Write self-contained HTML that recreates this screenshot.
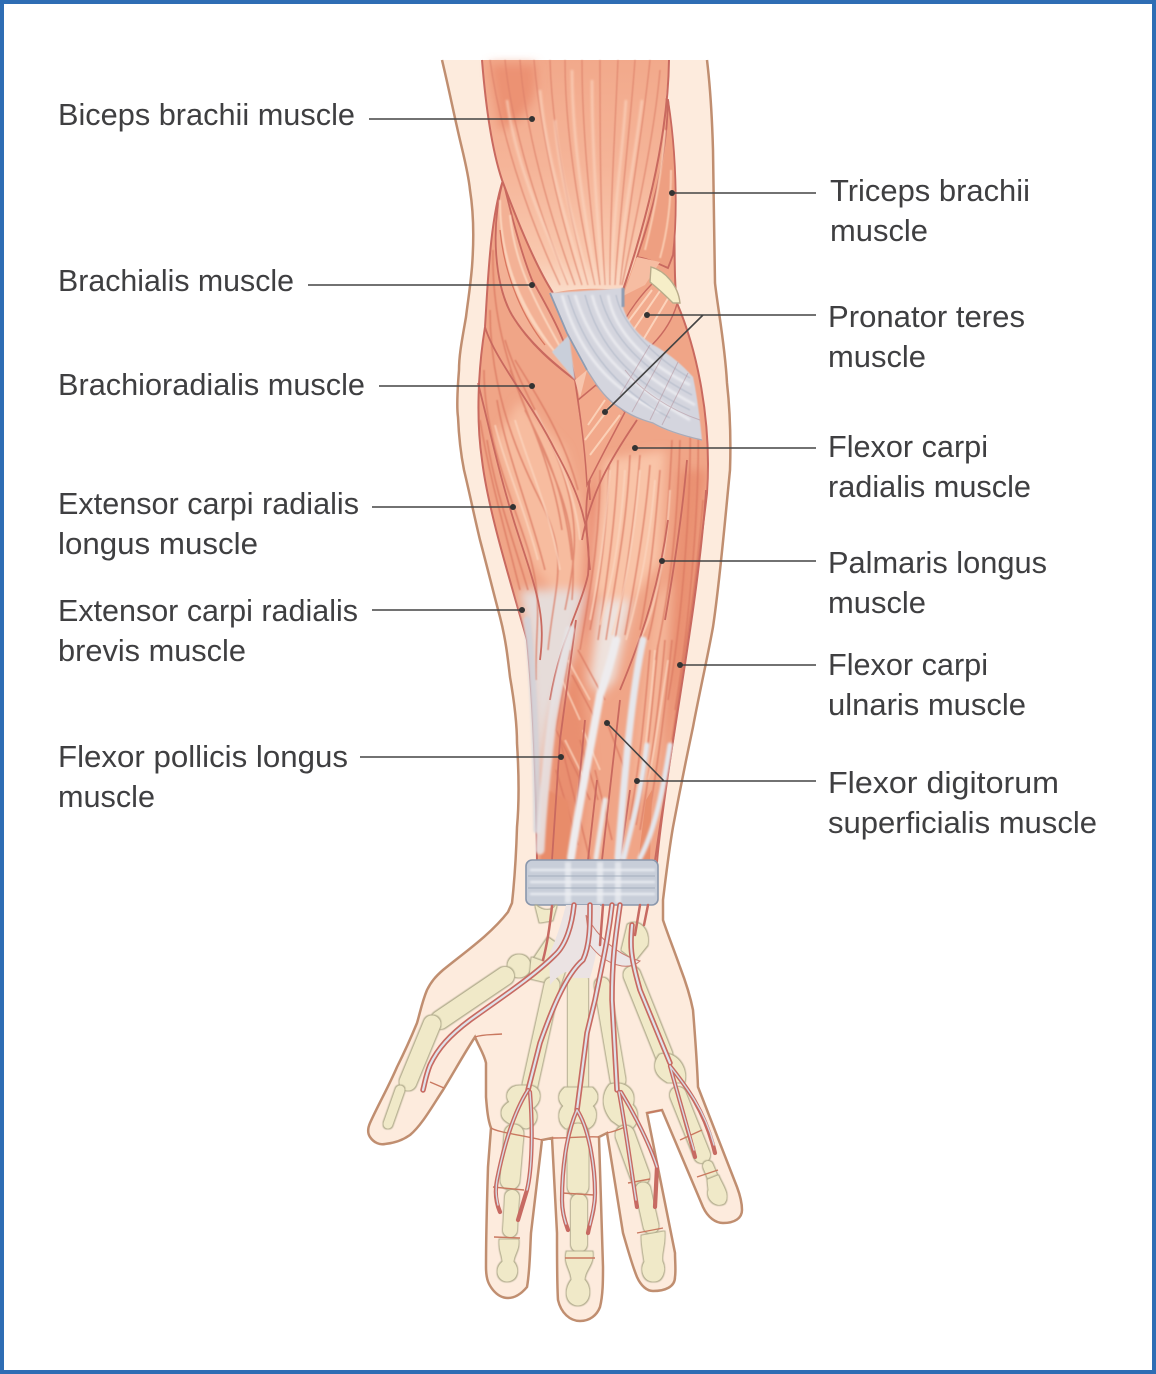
<!DOCTYPE html>
<html><head><meta charset="utf-8"><style>
html,body{margin:0;padding:0;background:#fff}
svg{display:block}
text{font-family:"Liberation Sans",sans-serif;font-size:31px;fill:#3f3f41}
.b{filter:url(#ol);fill:#f0e9c8;stroke:#f0e9c8;stroke-linecap:round;stroke-linejoin:round}
</style></head><body>
<svg xmlns="http://www.w3.org/2000/svg" width="1156" height="1374" viewBox="0 0 1156 1374">
<defs>
<filter id="ol" filterUnits="userSpaceOnUse" x="340" y="890" width="420" height="440"><feMorphology in="SourceAlpha" operator="dilate" radius="1.1" result="d"/><feFlood flood-color="#b3ad8e"/><feComposite in2="d" operator="in" result="o"/><feGaussianBlur in="o" stdDeviation=".5" result="o2"/><feMerge><feMergeNode in="o2"/><feMergeNode in="SourceGraphic"/></feMerge></filter>
<filter id="b05" filterUnits="userSpaceOnUse" x="440" y="50" width="300" height="900"><feGaussianBlur stdDeviation=".6"/></filter>
<filter id="b1" filterUnits="userSpaceOnUse" x="440" y="50" width="300" height="900"><feGaussianBlur stdDeviation="1"/></filter>
<filter id="b2" filterUnits="userSpaceOnUse" x="440" y="50" width="300" height="900"><feGaussianBlur stdDeviation="2.4"/></filter>
<filter id="b3" filterUnits="userSpaceOnUse" x="440" y="50" width="300" height="900"><feGaussianBlur stdDeviation="5"/></filter>
<linearGradient id="bic" x1="0" y1="0" x2="0" y2="1"><stop offset="0" stop-color="#f2a98b"/><stop offset=".45" stop-color="#f5b498"/><stop offset=".85" stop-color="#f9c8ae"/><stop offset="1" stop-color="#fadcc9"/></linearGradient>
<clipPath id="env"><path d="M503 180C490 220 488 280 485 327C478 370 476 420 482 460C488 510 510 580 527 640C533 700 536 780 537 862L657 862C662 800 690 640 707 493C712 420 697 350 677 303C672 270 678 200 668 100L482 60Z"/></clipPath>
</defs>
<rect width="1156" height="1374" fill="#fff"/>
<!-- skin -->
<path d="M442 60C448 85 452 105 457 127C462 150 468 170 470 190C474 215 474 240 472 267C470 290 468 300 466 317C462 340 459 355 459 370C457 395 457 410 458 417C459 440 461 455 464 470C470 495 474 515 480 540C488 570 494 595 500 617C506 640 508 660 510 677C514 700 517 725 517 743C519 775 519 805 517 827C516 860 514 885 512 903L508 912C490 935 465 952 443 970C435 977 431 982 427 990C422 1002 420 1013 417 1023C410 1040 404 1053 397 1067C388 1088 378 1105 370 1123C367 1130 368 1134 370 1137C374 1143 380 1145 385 1144C395 1143 403 1140 410 1135C422 1125 433 1105 443 1090C454 1072 465 1052 475 1037C479 1047 484 1054 486 1063L486 1097C487 1110 488 1120 491 1128L488 1167C487 1200 486 1235 486 1267C486 1280 489 1285 493 1290C498 1296 503 1298 508 1298C516 1298 522 1293 527 1287C530 1270 530 1250 531 1233L542 1140L552 1138L557 1233C557 1260 557 1285 558 1300C561 1313 570 1321 580 1321C590 1321 597 1315 600 1307C603 1295 603 1280 603 1267L599 1137L607 1133L623 1233C628 1250 632 1265 637 1277C641 1286 647 1291 653 1291C665 1291 675 1287 675 1277C676 1270 675 1262 675 1253L647 1113L662 1110L703 1207C708 1218 716 1223 723 1223C735 1223 742 1218 742 1210C742 1203 740 1195 737 1187L698 1087C697 1060 695 1035 693 1010C690 995 685 980 680 967C674 950 668 935 663 920L663 900C666 875 669 850 673 827C679 795 686 760 693 727C700 690 707 660 713 627C720 580 725 520 730 470C731 440 730 410 727 383C725 345 718 310 715 283C714 240 714 190 713 150C712 115 710 85 707 60" fill="#fdebdd" stroke="#c08e70" stroke-width="2.5"/>
<!-- forearm base -->
<path d="M503 180C490 220 488 280 485 327C478 370 476 420 482 460C488 510 510 580 527 640C533 700 536 780 537 862L657 862C662 800 690 640 707 493C712 420 697 350 677 303C672 270 678 200 668 100L640 90L520 150Z" fill="#f0a587" stroke="#c9695f" stroke-width="2"/>
<g clip-path="url(#env)">
<g filter="url(#b3)">
<path d="M520 400L565 450L585 520L580 590L560 600L530 560L495 440Z" fill="#f7bc9f"/>
<path d="M605 460L665 450L660 560L625 610L590 590Z" fill="#f9c4a8"/>
<path d="M655 600L690 560L672 720L650 790L630 800Z" fill="#f5b699"/>
<path d="M545 860L575 860L590 760L578 650L555 720Z" fill="#e98f6f"/>
<path d="M590 500L600 470L590 620L582 650Z" fill="#e8836a"/>
<path d="M680 470L706 470L690 640L660 780Z" fill="#ea9172"/>
<path d="M520 590L585 590L575 640L550 720L537 800L528 640Z" fill="#e6dcd9"/>
<path d="M600 600L632 600L615 680L600 695L590 680Z" fill="#eee2dd"/>
</g>
<g fill="none" stroke="#d9765f" stroke-width="1.6" filter="url(#b05)" opacity=".7">
<path d="M493 250C492 300 500 350 530 420S578 520 572 600"/>
<path d="M490 310C490 380 510 440 540 500S555 580 548 650"/>
<path d="M484 370C484 430 505 480 525 540S535 620 536 680"/>
<path d="M505 340C520 390 550 430 565 480S575 560 565 610"/>
<path d="M480 420C490 480 505 530 520 590"/>
<path d="M515 360C540 400 565 440 578 490"/>
<path d="M497 400C505 450 530 510 545 570"/>
<path d="M487 440C495 490 510 530 528 590"/>
<path d="M525 410C545 450 565 490 572 560"/>
<path d="M510 370C530 420 553 470 562 530"/>
<path d="M600 470C600 540 590 590 580 650"/>
<path d="M609 465C607 530 600 580 590 630"/>
<path d="M618 460C615 530 605 590 598 640"/>
<path d="M630 455C627 525 615 580 606 640"/>
<path d="M640 455C635 520 625 580 615 640"/>
<path d="M650 465C645 525 635 580 625 635"/>
<path d="M660 470C655 530 650 580 640 630"/>
<path d="M672 440C668 530 660 590 648 640"/>
<path d="M680 440C677 540 668 600 655 660"/>
<path d="M690 410C692 500 682 620 668 700"/>
<path d="M698 420C700 500 690 620 675 710"/>
<path d="M703 500C697 580 685 650 672 740"/>
<path d="M650 650C645 710 640 760 630 820"/>
<path d="M658 645C652 705 648 760 636 825"/>
<path d="M665 640C660 700 650 770 640 830"/>
<path d="M672 640C666 700 658 770 645 835"/>
<path d="M570 650L556 730L590 800"/>
<path d="M560 740L590 860"/>
<path d="M578 650L605 700"/>
<path d="M606 720L625 770"/>
<path d="M595 770L612 840"/>
<path d="M572 675L596 720"/>
<path d="M556 770L578 845"/>
<path d="M580 740L598 800"/>
</g>
<g fill="none" stroke="#fcd6bf" stroke-width="2" filter="url(#b05)" opacity=".7">
<path d="M515 420C530 470 550 510 560 570"/>
<path d="M495 425C505 465 525 510 538 560"/>
<path d="M535 410C555 450 575 490 580 540"/>
<path d="M610 470C605 530 600 570 590 620"/>
<path d="M625 470C621 530 614 575 600 625"/>
<path d="M640 470C635 530 627 585 612 635"/>
<path d="M655 480C650 540 640 590 626 640"/>
<path d="M670 490C666 560 655 610 640 640"/>
<path d="M655 650C650 710 645 750 640 790"/>
<path d="M668 660C660 710 655 750 648 780"/>
<path d="M562 680L580 720"/>
<path d="M568 660L590 700"/>
<path d="M565 740L585 780"/>
<path d="M583 730L600 770"/>
<path d="M555 800L570 845"/>
</g>
<path d="M540 862L548 790L568 800L575 862Z" fill="#e88c6b" filter="url(#b1)"/>
<path d="M638 862L646 800L652 790L650 862Z" fill="#e88e6c"/>
</g>
<!-- outlines -->
<g fill="none" stroke="#c9695f" stroke-width="1.8">
<path d="M503 180C492 225 494 285 512 315C530 345 555 365 575 380"/>
<path d="M485 327C495 360 530 400 555 450C580 495 592 530 588 575C580 610 560 640 550 700"/>
<path d="M478 383C490 430 500 480 520 540S545 620 540 660"/>
<path d="M575 380C582 430 588 460 590 500"/>
<path d="M590 480C585 500 585 520 590 570"/>
<path d="M637 420C610 460 592 490 582 540"/>
<path d="M706 490C700 590 675 720 655 860"/>
<path d="M668 520C660 580 645 630 620 690"/>
<path d="M687 460C682 520 672 580 665 620"/>
<path d="M576 620L560 740L552 860"/>
<path d="M585 720L572 860"/>
<path d="M620 700L602 860"/>
<path d="M630 790L620 860"/>
<path d="M597 780L588 860"/>
</g>
<!-- tendons (forearm) -->
<g fill="none" stroke-linecap="round" filter="url(#b1)">
<path d="M527 620C532 660 536 720 537 830" stroke="#cfd3dc" stroke-width="7" opacity=".8"/>
<path d="M570 630C562 665 556 695 552 720C546 770 542 810 540 850" stroke="#e6e4e6" stroke-width="9" opacity=".85"/>
<path d="M616 640C610 665 605 680 600 695C590 750 578 810 571 858" stroke="#eeecee" stroke-width="8"/>
<path d="M643 640C632 690 625 770 618 858" stroke="#e6e7ec" stroke-width="7"/>
<path d="M670 745C663 790 655 830 640 858" stroke="#e4e6ec" stroke-width="5"/>
<path d="M647 745C640 800 630 830 624 858" stroke="#e4e6ec" stroke-width="5"/>
<path d="M605 800L596 858" stroke="#ece7e6" stroke-width="5"/>
</g>
<!-- triceps -->
<path d="M668 100C676 150 678 210 673 255L668 268C655 262 645 258 637 257C650 220 667 160 668 100Z" fill="#ee9f81" stroke="#c9695f" stroke-width="1.8"/>
<path d="M665 130C662 170 655 210 645 250M671 170C671 200 668 230 660 258" fill="none" stroke="#f9c9ae" stroke-width="2" filter="url(#b05)"/>
<path d="M637 257L660 262L645 285L623 296Z" fill="#f6bda2"/>
<!-- brachialis -->
<path d="M503 180C490 230 495 285 512 315C530 345 560 368 575 380C570 350 555 320 532 280C520 250 510 210 503 180Z" fill="#f3b195" stroke="#c9695f" stroke-width="1.8"/>
<path d="M500 200C500 260 520 310 565 365M510 215C515 270 540 310 570 365M505 250C515 300 535 330 558 355" fill="none" stroke="#fbd4bc" stroke-width="2" filter="url(#b05)"/>
<path d="M500 230C505 280 525 320 545 345" fill="none" stroke="#d9765f" stroke-width="1.3"/>
<path d="M552 352L575 380L569 335Z" fill="#c9cfda" filter="url(#b05)"/>
<path d="M575 380L587 370L580 398Z" fill="#f7c5ad"/>
<!-- biceps -->
<path d="M482 60C486 110 492 150 502 180C515 215 535 265 553 293C575 288 600 288 623 290C638 260 660 190 669 60Z" fill="url(#bic)"/>
<path d="M482 60C486 110 492 150 502 180C515 215 535 265 553 293M669 60C668 130 650 210 623 290" fill="none" stroke="#c9695f" stroke-width="2"/>
<path d="M490 64L535 64C540 100 525 120 500 130Z" fill="#ec9273" filter="url(#b3)"/>
<g fill="none" stroke="#dd8069" stroke-width="1.4" filter="url(#b05)" opacity=".7">
<path d="M490 60C500 130 525 210 560 285"/><path d="M505 60C512 130 538 210 568 285"/><path d="M520 60C525 130 548 210 575 285"/><path d="M534 60C540 130 558 210 582 285"/><path d="M550 60C552 130 568 210 588 285"/><path d="M565 60C565 130 578 210 595 285"/><path d="M582 60C582 130 590 210 600 285"/><path d="M600 60C600 130 600 210 605 285"/><path d="M618 60C615 130 610 210 610 285"/><path d="M635 60C630 130 620 210 615 285"/><path d="M650 60C643 130 628 210 620 285"/><path d="M660 70C655 130 638 210 622 285"/>
</g>
<g fill="none" stroke="#fcd9c4" stroke-width="2.4" filter="url(#b1)" opacity=".7">
<path d="M507 100C515 160 540 220 570 285"/><path d="M540 90C545 150 565 220 585 285"/><path d="M572 70C572 140 585 220 597 285"/><path d="M592 80C592 150 597 220 603 285"/><path d="M626 100C622 160 612 220 612 285"/><path d="M642 100C635 160 622 220 618 285"/><path d="M555 120C558 170 575 230 590 285"/>
</g>
<!-- pronator -->
<path d="M658 278L677 304C668 335 640 360 620 365L615 340C625 315 640 295 658 278Z" fill="#f2ab8e" stroke="#c9695f" stroke-width="1.4"/>
<path d="M664 285L630 335M670 295L640 345M652 290L622 330" fill="none" stroke="#fcd3bb" stroke-width="2"/>
<path d="M651 267C665 271 678 285 680 303L673 303C668 298 660 290 650 282Z" fill="#f6eec8" stroke="#b8ab8a" stroke-width="1.4"/>
<path d="M578 400L596 385L625 412L605 450L587 485C585 450 582 430 578 400Z" fill="#f2a98b" stroke="#c9695f" stroke-width="1.5"/>
<path d="M585 440L615 400M590 455L620 415M588 425L605 400" fill="none" stroke="#fbd0b6" stroke-width="2"/>
<!-- aponeurosis -->
<path d="M550 293C565 292 600 290 623 288L623 307C627 322 640 338 657 347C675 358 685 368 693 377C697 395 700 420 702 440C680 435 665 430 653 423C635 418 625 412 613 403C600 392 595 382 587 370C578 358 575 345 567 333Z" fill="#d4d5de" filter="url(#b05)"/>
<path d="M550 293L567 333L587 370" fill="none" stroke="#8e9cb2" stroke-width="1.8"/>
<path d="M623 288L623 307" fill="none" stroke="#8e9cb2" stroke-width="3" filter="url(#b05)"/>
<path d="M587 370C595 382 600 392 613 403C625 412 635 418 653 423C665 430 680 435 702 440" fill="none" stroke="#a7abb9" stroke-width="1.3"/>
<g fill="none" stroke="#f1f1f4" stroke-width="2.4" filter="url(#b1)" opacity=".9">
<path d="M562 295C575 340 600 385 660 412"/><path d="M575 295C590 345 620 380 690 420"/><path d="M592 295C605 345 640 375 695 405"/><path d="M608 295C615 335 650 365 690 385"/>
</g>
<g fill="none" stroke="#a9b2c3" stroke-width="1.1" filter="url(#b05)" opacity=".7">
<path d="M568 295C582 340 608 385 670 418"/><path d="M585 295C598 345 630 382 690 410"/><path d="M600 295C612 340 645 370 692 395"/><path d="M616 295C622 325 655 358 690 378"/>
</g>
<g fill="none" stroke="#b08b95" stroke-width="1" opacity=".5">
<path d="M650 345L620 395M665 352L632 412M678 362L650 420M688 373L662 425M700 420C670 410 640 390 625 370"/>
</g>
<!-- retinaculum -->
<rect x="526" y="860" width="132" height="45" rx="6" fill="#c8ced9" stroke="#8a97ac" stroke-width="1.6"/>
<g fill="none" stroke="#eef0f4" stroke-width="2" filter="url(#b1)">
<path d="M530 870H655M530 882H655M530 894H655"/><path d="M568 862V903M600 862V903M618 862V903" stroke-width="6" opacity=".7"/>
</g>
<path d="M528 876H655M528 888H655" fill="none" stroke="#97a2b4" stroke-width=".8"/>
<!-- bones -->
<g fill="none">
<path class="b" d="M536 906C543 912 552 912 556 906L552 920L540 922Z"/>
<path class="b" d="M548 938L565 950L548 975L530 965Z"/>
<path class="b" d="M519 966m-11 0a11 11 0 1 1 22 0a11 11 0 1 1-22 0"/>
<path class="b" d="M530 978L560 985L565 970L532 958Z"/>
<path class="b" d="M505 976L440 1020" stroke-width="18"/>
<path class="b" d="M432 1024L408 1082" stroke-width="17"/>
<path class="b" d="M400 1090L388 1124" stroke-width="9"/>
<path class="b" d="M552 985L530 1085" stroke-width="15"/>
<path class="b" d="M530 1086C542 1088 542 1102 532 1108C540 1114 536 1126 526 1128L512 1124C498 1118 500 1108 510 1102C504 1095 510 1086 520 1086Z"/>
<path class="b" d="M514 1134L510 1180" stroke-width="19"/>
<path class="b" d="M512 1197L510 1230" stroke-width="14"/>
<path class="b" d="M500 1240L518 1240C519 1250 513 1255 513 1262C519 1268 518 1280 507 1281C497 1280 495 1268 503 1262C503 1255 499 1250 500 1240Z"/>
<path class="b" d="M578 980L578 1085" stroke-width="20"/>
<path class="b" d="M565 1088L592 1088C600 1095 597 1102 592 1106C598 1112 596 1124 588 1128L566 1128C558 1122 558 1112 564 1106C558 1100 558 1094 565 1088Z"/>
<path class="b" d="M578 1134L578 1186" stroke-width="21"/>
<path class="b" d="M579 1202L579 1244" stroke-width="16"/>
<path class="b" d="M567 1252L592 1252C594 1264 584 1270 584 1280C592 1288 590 1304 578 1305C566 1304 564 1290 572 1280C572 1270 564 1264 567 1252Z"/>
<path class="b" d="M602 985L618 1080" stroke-width="15"/>
<path class="b" d="M610 1085C625 1080 637 1092 632 1105C640 1112 638 1128 626 1130L612 1120C600 1105 604 1092 610 1085Z"/>
<path class="b" d="M625 1135L640 1176" stroke-width="19"/>
<path class="b" d="M643 1190L651 1226" stroke-width="15"/>
<path class="b" d="M642 1236L664 1232C665 1245 660 1255 662 1262C666 1270 662 1281 654 1281C644 1281 640 1270 645 1262C644 1255 642 1245 642 1236Z"/>
<path class="b" d="M632 975L664 1055" stroke-width="17"/>
<path class="b" d="M660 1055C675 1050 688 1068 684 1082L668 1082C655 1075 652 1065 660 1055Z"/>
<path class="b" d="M678 1095L702 1155" stroke-width="16"/>
<path class="b" d="M708 1166L713 1178" stroke-width="10"/>
<path class="b" d="M708 1180L718 1176C722 1186 730 1195 724 1203C716 1208 706 1198 709 1190Z"/>
<path class="b" d="M628 925C638 918 650 930 647 945L635 960L622 950Z"/>
</g>
<!-- creases -->
<g fill="none" stroke="#c9785f" stroke-width="1.4">
<path d="M475 1037C483 1034 492 1035 502 1034"/>
<path d="M491 1128C497 1132 520 1135 542 1140"/>
<path d="M599 1137C590 1136 570 1138 552 1138"/>
<path d="M607 1133C612 1132 618 1130 625 1127"/>
<path d="M647 1113C652 1112 657 1111 662 1110"/>
<path d="M493 1187L524 1190M494 1237L520 1238"/>
<path d="M562 1193L594 1195M565 1258L595 1258"/>
<path d="M628 1183L650 1179M637 1233L663 1228"/>
<path d="M680 1140L702 1130M697 1177L718 1170"/>
<path d="M430 1082L444 1088"/>
</g>
<!-- wrist white fan -->
<path d="M566 905L600 905C601 930 597 955 590 978L573 978C572 965 558 975 550 985L549 955C558 935 562 920 566 905Z" fill="#ebe3e3"/>
<path d="M586 915C598 938 618 955 640 961C628 972 605 965 590 945Z" fill="#ece6e7" stroke="#c97a6f" stroke-width="1"/>
<!-- tendons hand -->
<g fill="none" stroke-linecap="round" stroke-linejoin="round">
<g stroke="#c76a62" stroke-width="5.5">
<path d="M574 905C572 925 566 945 555 955C535 975 505 995 470 1020C450 1035 438 1048 430 1065C426 1075 425 1082 423 1090"/>
<path d="M590 905C590 925 590 945 583 960C565 975 550 1015 540 1043L528 1090"/>
<path d="M612 905C608 940 603 960 595 1000L587 1033L577 1110"/>
<path d="M620 905C615 940 612 960 612 1000L617 1090"/>
<path d="M632 925C630 945 630 955 640 990L670 1063"/>
</g>
<g stroke="#dfe2ea" stroke-width="2.2">
<path d="M574 905C572 925 566 945 555 955C535 975 505 995 470 1020C450 1035 438 1048 430 1065C426 1075 425 1082 423 1090"/>
<path d="M590 905C590 925 590 945 583 960C565 975 550 1015 540 1043L528 1090"/>
<path d="M612 905C608 940 603 960 595 1000L587 1033L577 1110"/>
<path d="M620 905C615 940 612 960 612 1000L617 1090"/>
<path d="M632 925C630 945 630 955 640 990L670 1063"/>
</g>
<g stroke="#c76a62" stroke-width="2.5">
<path d="M552 906C550 925 547 945 543 960"/>
<path d="M603 905L600 945"/>
<path d="M640 905L635 935"/>
<path d="M648 905L644 925"/>
</g>
<g stroke="#c76a62" stroke-width="4.2">
<path d="M528 1090C512 1115 503 1150 497 1180C494 1195 497 1205 500 1212"/>
<path d="M530 1092C533 1130 532 1170 527 1190L518 1220"/>
<path d="M577 1110C566 1135 562 1170 562 1200C562 1212 565 1222 568 1230"/>
<path d="M577 1110C590 1130 595 1170 595 1193C595 1210 590 1222 588 1233"/>
<path d="M619 1092C626 1130 632 1175 637 1207"/>
<path d="M621 1092C635 1115 650 1145 657 1167L655 1207"/>
<path d="M670 1066C678 1095 688 1130 695 1157"/>
<path d="M670 1066C685 1085 705 1110 715 1153"/>
</g>
<g stroke="#d6d9e3" stroke-width="1.4">
<path d="M528 1090C512 1115 503 1150 497 1180C495 1192 497 1200 498 1205"/>
<path d="M530 1092C533 1130 532 1170 527 1190"/>
<path d="M577 1110C566 1135 562 1170 562 1200C562 1210 564 1218 566 1224"/>
<path d="M577 1110C590 1130 595 1170 595 1193C595 1205 592 1215 590 1225"/>
<path d="M619 1092C626 1130 632 1175 636 1200"/>
<path d="M621 1092C635 1115 650 1145 657 1167"/>
<path d="M670 1066C678 1095 688 1130 694 1150"/>
<path d="M670 1066C685 1085 705 1110 714 1145"/>
</g>
</g>
<!-- leaders -->
<g stroke="#444" stroke-width="1.6" fill="none">
<path d="M369 119H532M816 193H672M308 285H532M379 386H532M372 507H513M372 610H522M360 757H561M816 315H647M703 315L605 412M816 448H635M816 561H662M816 665H680M816 781H637M664 781L607 723"/>
</g>
<g fill="#333">
<circle cx="532" cy="119" r="3"/><circle cx="672" cy="193" r="3"/><circle cx="532" cy="285" r="3"/><circle cx="532" cy="386" r="3"/><circle cx="513" cy="507" r="3"/><circle cx="522" cy="610" r="3"/><circle cx="561" cy="757" r="3"/><circle cx="647" cy="315" r="3"/><circle cx="605" cy="412" r="3"/><circle cx="635" cy="448" r="3"/><circle cx="662" cy="561" r="3"/><circle cx="680" cy="665" r="3"/><circle cx="637" cy="781" r="3"/><circle cx="607" cy="723" r="3"/>
</g>
<!-- labels -->
<text x="58" y="125" textLength="297" lengthAdjust="spacingAndGlyphs">Biceps brachii muscle</text>
<text x="58" y="291" textLength="236" lengthAdjust="spacingAndGlyphs">Brachialis muscle</text>
<text x="58" y="395" textLength="307" lengthAdjust="spacingAndGlyphs">Brachioradialis muscle</text>
<text x="58" y="514" textLength="301" lengthAdjust="spacingAndGlyphs">Extensor carpi radialis</text>
<text x="58" y="554" textLength="200" lengthAdjust="spacingAndGlyphs">longus muscle</text>
<text x="58" y="621" textLength="300" lengthAdjust="spacingAndGlyphs">Extensor carpi radialis</text>
<text x="58" y="661" textLength="188" lengthAdjust="spacingAndGlyphs">brevis muscle</text>
<text x="58" y="767" textLength="290" lengthAdjust="spacingAndGlyphs">Flexor pollicis longus</text>
<text x="58" y="807" textLength="97" lengthAdjust="spacingAndGlyphs">muscle</text>
<text x="830" y="201" textLength="200" lengthAdjust="spacingAndGlyphs">Triceps brachii</text>
<text x="830" y="241" textLength="98" lengthAdjust="spacingAndGlyphs">muscle</text>
<text x="828" y="327" textLength="197" lengthAdjust="spacingAndGlyphs">Pronator teres</text>
<text x="828" y="367" textLength="98" lengthAdjust="spacingAndGlyphs">muscle</text>
<text x="828" y="457" textLength="160" lengthAdjust="spacingAndGlyphs">Flexor carpi</text>
<text x="828" y="497" textLength="203" lengthAdjust="spacingAndGlyphs">radialis muscle</text>
<text x="828" y="573" textLength="219" lengthAdjust="spacingAndGlyphs">Palmaris longus</text>
<text x="828" y="613" textLength="98" lengthAdjust="spacingAndGlyphs">muscle</text>
<text x="828" y="675" textLength="160" lengthAdjust="spacingAndGlyphs">Flexor carpi</text>
<text x="828" y="715" textLength="198" lengthAdjust="spacingAndGlyphs">ulnaris muscle</text>
<text x="828" y="793" textLength="231" lengthAdjust="spacingAndGlyphs">Flexor digitorum</text>
<text x="828" y="833" textLength="269" lengthAdjust="spacingAndGlyphs">superficialis muscle</text>
<rect x="2" y="2" width="1152" height="1370" fill="none" stroke="#2e6db4" stroke-width="4"/>
</svg>
</body></html>
